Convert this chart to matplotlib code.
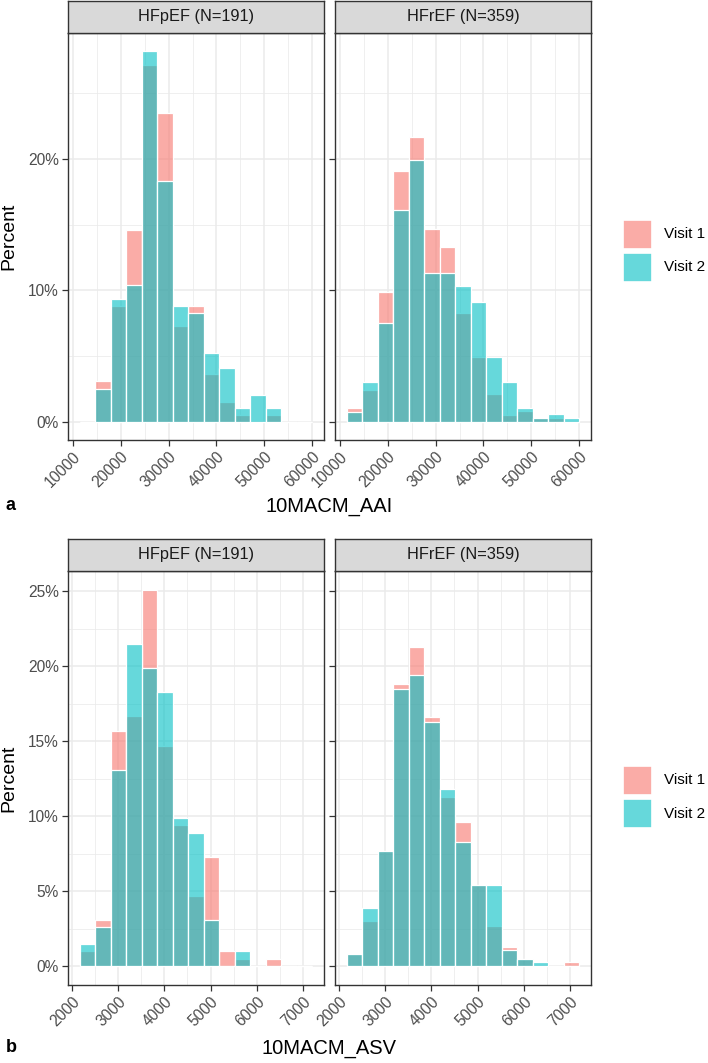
import numpy as np
import matplotlib
matplotlib.use("Agg")
import matplotlib.pyplot as plt
from matplotlib.patches import Rectangle
from matplotlib.colors import to_rgba

plt.rcParams['font.family'] = ['Liberation Sans', 'DejaVu Sans']

# ---------------- data ----------------
groups = ["HFpEF (N=191)", "HFrEF (N=359)"]
visits = ["Visit 1", "Visit 2"]

# 10MACM_AAI histogram (15 bins), percent per group
aai_bin_start = 11450
aai_bin_width = 3237
hfpef_aai_v1 = [0, 3.1, 8.8, 14.6, 27.2, 23.5, 7.3, 8.8, 3.6, 1.5, 0.5, 0, 0.5, 0, 0]
hfpef_aai_v2 = [0, 2.5, 9.3, 10.4, 28.2, 18.3, 8.8, 8.3, 5.2, 4.1, 1.0, 2.0, 1.0, 0, 0]
hfref_aai_v1 = [1.0, 2.4, 9.9, 19.1, 21.7, 14.7, 13.3, 8.3, 4.9, 2.1, 0.5, 0.8, 0.28, 0.28, 0]
hfref_aai_v2 = [0.7, 3.0, 7.5, 16.1, 19.9, 11.3, 11.3, 10.3, 9.1, 4.9, 3.0, 1.0, 0.28, 0.56, 0.28]
aai_xticks = [10000, 20000, 30000, 40000, 50000, 60000]
aai_yticks = [0, 10, 20]

# 10MACM_ASV histogram (15 bins), percent per group
asv_bin_start = 2167
asv_bin_width = 335.6
hfpef_asv_v1 = [1.0, 3.1, 15.7, 16.7, 25.1, 14.7, 9.4, 4.7, 7.3, 1.0, 0.5, 0, 0.5, 0, 0]
hfpef_asv_v2 = [1.5, 2.6, 13.1, 21.5, 19.9, 18.3, 9.9, 8.9, 3.1, 0, 1.0, 0, 0, 0, 0]
hfref_asv_v1 = [0.8, 3.0, 7.7, 18.8, 21.3, 16.6, 11.3, 9.6, 5.4, 2.7, 1.3, 0.5, 0, 0, 0.28]
hfref_asv_v2 = [0.8, 3.9, 7.7, 18.5, 19.4, 16.3, 11.8, 8.3, 5.4, 5.4, 1.1, 0.5, 0.28, 0, 0]
asv_xticks = [2000, 3000, 4000, 5000, 6000, 7000]
asv_yticks = [0, 5, 10, 15, 20, 25]

# ---------------- style ----------------
W, H = 708, 1063
DPI = 100
C1 = "#F8766D"
C2 = "#00BFC4"
ALPHA = 0.6
GRID_MAJOR = "#EBEBEB"
TXT = "#4D4D4D"
DARK = "#333333"

fig = plt.figure(figsize=(W / DPI, H / DPI), dpi=DPI)


def fig_rect(x0, y0, x1, y1):
    return [x0 / W, 1 - y1 / H, (x1 - x0) / W, (y1 - y0) / H]


def draw_block(top, bottom, strip_top, v_lists, bin_start, bin_width, xticks, yticks,
               ylabel_txt, xtitle, letter, title_y, legend_center):
    nb = len(v_lists[0][0])
    edges = bin_start + bin_width * np.arange(nb)
    data_lo, data_hi = bin_start, bin_start + bin_width * nb
    span = data_hi - data_lo
    xlim = (data_lo - 0.05 * span, data_hi + 0.05 * span)
    ymax = max(max(a) for pair in v_lists for a in pair)
    ylim = (-0.05 * ymax, ymax * 1.05)
    ystep = yticks[1] - yticks[0]
    xstep = xticks[1] - xticks[0]
    panels = [(68, 324), (335, 591)]
    for i, ((x0, x1), (v1, v2)) in enumerate(zip(panels, v_lists)):
        ax = fig.add_axes(fig_rect(x0, top, x1, bottom))
        ax.set_xlim(*xlim)
        ax.set_ylim(*ylim)
        # grid
        minor_y = np.arange(yticks[0] - ystep / 2, ylim[1] + ystep, ystep)
        minor_x = np.arange(xticks[0] - xstep / 2, xlim[1] + xstep, xstep)
        for yv in minor_y:
            ax.axhline(yv, color=GRID_MAJOR, lw=0.55, zorder=0)
        for xv in minor_x:
            ax.axvline(xv, color=GRID_MAJOR, lw=0.55, zorder=0)
        for yv in yticks:
            ax.axhline(yv, color=GRID_MAJOR, lw=1.1, zorder=0)
        for xv in xticks:
            ax.axvline(xv, color=GRID_MAJOR, lw=1.1, zorder=0)
        for vals, col in ((v1, C1), (v2, C2)):
            ax.bar(edges, vals, width=bin_width, align='edge',
                   facecolor=to_rgba(col, ALPHA), edgecolor='white', linewidth=0.9, zorder=2)
        ax.set_xticks(xticks)
        ax.set_xticklabels([str(t) for t in xticks], rotation=45, ha='right', va='top',
                           rotation_mode='anchor', color=TXT, fontsize=11.2)
        ax.set_yticks(yticks)
        if i == 0:
            ax.set_yticklabels([f"{t}%" for t in yticks], color=TXT, fontsize=11.2)
        else:
            ax.set_yticklabels([])
            ax.tick_params(axis='y', length=0)
        ax.tick_params(axis='both', which='major', color=DARK, width=0.9, length=4, pad=2.5)
        for s in ax.spines.values():
            s.set_color(DARK)
            s.set_linewidth(1.0)
        # strip
        sax = fig.add_axes(fig_rect(x0, strip_top, x1, top))
        sax.set_facecolor("#D9D9D9")
        sax.set_xticks([])
        sax.set_yticks([])
        for s in sax.spines.values():
            s.set_color(DARK)
            s.set_linewidth(1.0)
        sax.text(0.5, 0.5, groups[i], ha='center', va='center', fontsize=11.8,
                 color="#1A1A1A", transform=sax.transAxes)
    # y title
    fig.text(9 / W, 1 - ((top + bottom) / 2) / H, ylabel_txt, rotation=90,
             ha='center', va='center', fontsize=14, color='black')
    # x title and letter
    fig.text(329 / W, 1 - title_y / H, xtitle, ha='center', va='center', fontsize=14.5,
             color='black')
    fig.text(6 / W, 1 - title_y / H, letter, ha='left', va='center', fontsize=13,
             fontweight='bold', color='black')
    # legend
    box = 29
    gap = 4
    yc = legend_center
    for k, (lab, col) in enumerate(zip(visits, (C1, C2))):
        y0 = yc - box - gap / 2 + k * (box + gap)
        lax = fig.add_axes(fig_rect(623, y0, 623 + box, y0 + box))
        lax.set_xlim(0, 1)
        lax.set_ylim(0, 1)
        lax.axis('off')
        lax.add_patch(Rectangle((0, 0), 1, 1, facecolor=to_rgba(col, ALPHA),
                                edgecolor='white', linewidth=1.2, transform=lax.transAxes))
        fig.text(664 / W, 1 - (y0 + box / 2) / H, lab, ha='left', va='center',
                 fontsize=11, color='black')


draw_block(33, 440, 1, [(hfpef_aai_v1, hfpef_aai_v2), (hfref_aai_v1, hfref_aai_v2)],
           aai_bin_start, aai_bin_width, aai_xticks, aai_yticks,
           "Percent", "10MACM_AAI", "a", 506, 251)

draw_block(571, 985, 539, [(hfpef_asv_v1, hfpef_asv_v2), (hfref_asv_v1, hfref_asv_v2)],
           asv_bin_start, asv_bin_width, asv_xticks, asv_yticks,
           "Percent", "10MACM_ASV", "b", 1048, 797)

fig.savefig("out.png", dpi=DPI)
